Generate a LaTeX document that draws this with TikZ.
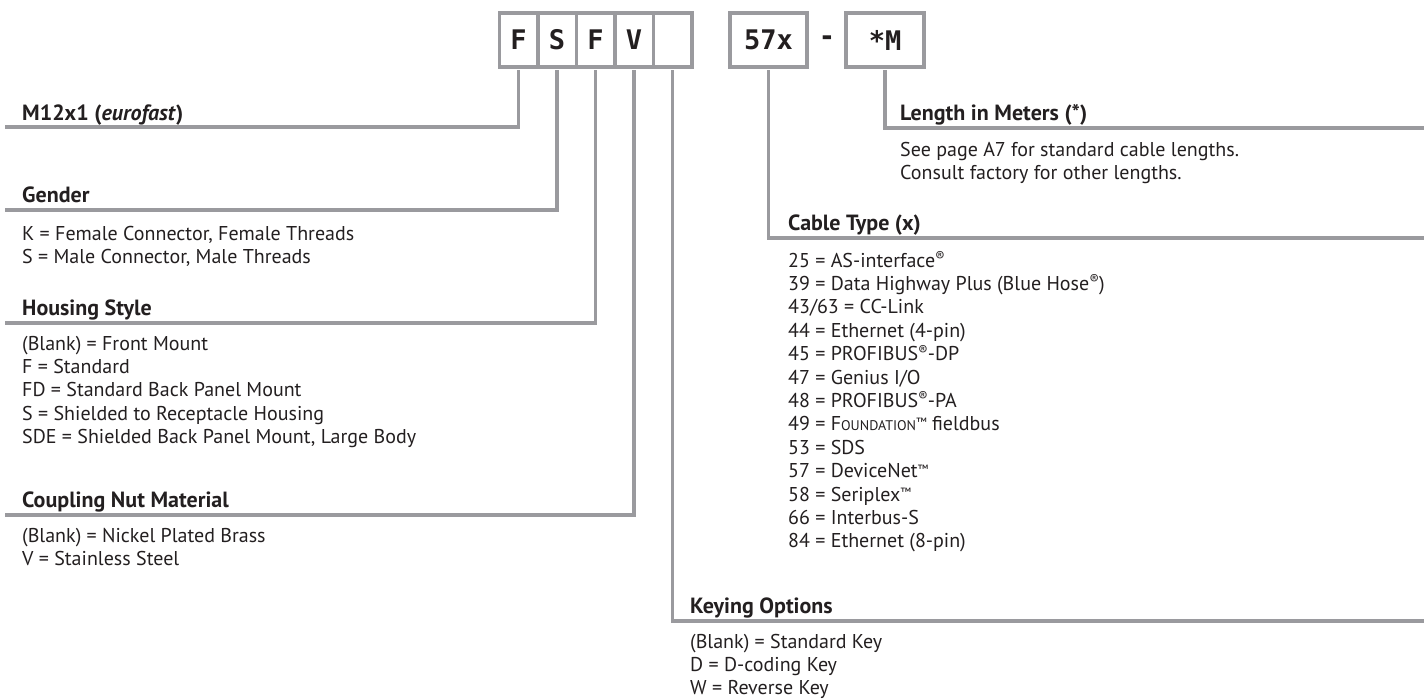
\documentclass[tikz,border=0pt]{standalone}
\usepackage{fontspec}
\setmainfont{PT Sans}
\newfontfamily\codefont{DejaVu Sans Mono}
\usetikzlibrary{positioning}
\definecolor{rule}{HTML}{9A9A9E}
\definecolor{ink}{HTML}{231F20}
\newcommand\tmark{{\fontsize{12}{12}\selectfont\raisebox{0.35em}{™}}}
\newcommand\rmark{{\fontsize{14}{14}\selectfont\raisebox{0.4em}{®}}}

\tikzset{
  codebox/.style={draw=rule,line width=3.5pt,minimum width=38.5pt,minimum height=54pt,
    inner sep=0pt,outer sep=0pt,text=ink,font=\codefont\bfseries\fontsize{27}{27}\selectfont},
  lead/.style={draw=rule,line width=3.5pt,shorten <=3pt},
  head/.style={anchor=base west,inner sep=0pt,text=ink,font=\bfseries\fontsize{22}{24}\selectfont},
  item/.style={anchor=base west,inner sep=0pt,text=ink,font=\fontsize{20}{23}\selectfont},
}

\begin{document}
\begin{tikzpicture}[x=1pt,y=-1pt]
\useasboundingbox (0,0) rectangle (1424,699);

% part number boxes
\node[codebox] (cF) at (518.5,40) {F};
\node[codebox,right=0pt of cF] (cS) {S};
\node[codebox,right=0pt of cS] (cH) {F};
\node[codebox,right=0pt of cH] (cV) {V};
\node[codebox,right=0pt of cV] (cK) {};
\node[codebox,minimum width=77pt] (cC) at (768.5,40) {57x};
\node[text=ink,font=\codefont\bfseries\fontsize{27}{27}\selectfont] (dash) at (827,41) {-};
\node[codebox,minimum width=78pt] (cL) at (885,40) {*M};

% line ends
\coordinate (eM) at (5,127);
\coordinate (eG) at (5,210);
\coordinate (eH) at (5,323);
\coordinate (eV) at (5,515);
\coordinate (eK) at (1424,621);
\coordinate (eC) at (1424,238);
\coordinate (eL) at (1424,128);

\draw[lead] (cF.south) |- (eM);
\draw[lead] (cS.south) |- (eG);
\draw[lead] (cH.south) |- (eH);
\draw[lead] (cV.south) |- (eV);
\draw[lead] (cK.south) |- (eK);
\draw[lead] (cC.south) |- (eC);
\draw[lead] (cL.south) |- (eL);

% left column
\node[head] (hM) at (22,120) {M12x1 (\textit{eurofast})};

\node[head] (hG) at (22,202) {Gender};
\foreach \t [count=\i from 0] in {{K = Female Connector, Female Threads},
    {S = Male Connector, Male Threads}}
  \node[item] (g\i) at (22,240+23.4*\i) {\t};

\node[head] (hH) at (22,315) {Housing Style};
\foreach \t [count=\i from 0] in {{(Blank) = Front Mount},{F = Standard},
    {FD = Standard Back Panel Mount},{S = Shielded to Receptacle Housing},
    {SDE = Shielded Back Panel Mount, Large Body}}
  \node[item] (h\i) at (22,350+23.4*\i) {\t};

\node[head] (hV) at (22,507) {Coupling Nut Material};
\foreach \t [count=\i from 0] in {{(Blank) = Nickel Plated Brass},{V = Stainless Steel}}
  \node[item] (v\i) at (22,542+23.4*\i) {\t};

% right column
\node[head] (hL) at (900,120) {Length in Meters (*)};
\node[item] (l0) at (900,156) {See page A7 for standard cable lengths.};
\node[item] (l1) at (900,179) {Consult factory for other lengths.};

\node[head] (hC) at (788,230) {Cable Type (x)};
\foreach \t [count=\i from 0] in {{25 = AS-interface\rmark},
    {39 = Data Highway Plus (Blue Hose\rmark)},
    {43/63 = CC-Link},{44 = Ethernet (4-pin)},
    {45 = PROFIBUS\rmark-DP},{47 = Genius I/O},
    {48 = PROFIBUS\rmark-PA},
    {49 = F{\fontsize{14}{14}\selectfont OUNDATION}\tmark\ fieldbus},
    {53 = SDS},{57 = DeviceNet\tmark},{58 = Seriplex\tmark},
    {66 = Interbus-S},{84 = Ethernet (8-pin)}}
  \node[item] (c\i) at (788,267+23.4*\i) {\t};

\node[head] (hK) at (690,613) {Keying Options};
\foreach \t [count=\i from 0] in {{(Blank) = Standard Key},{D = D-coding Key},
    {W = Reverse Key}}
  \node[item] (k\i) at (690,648.5+23*\i) {\t};
\end{tikzpicture}
\end{document}
